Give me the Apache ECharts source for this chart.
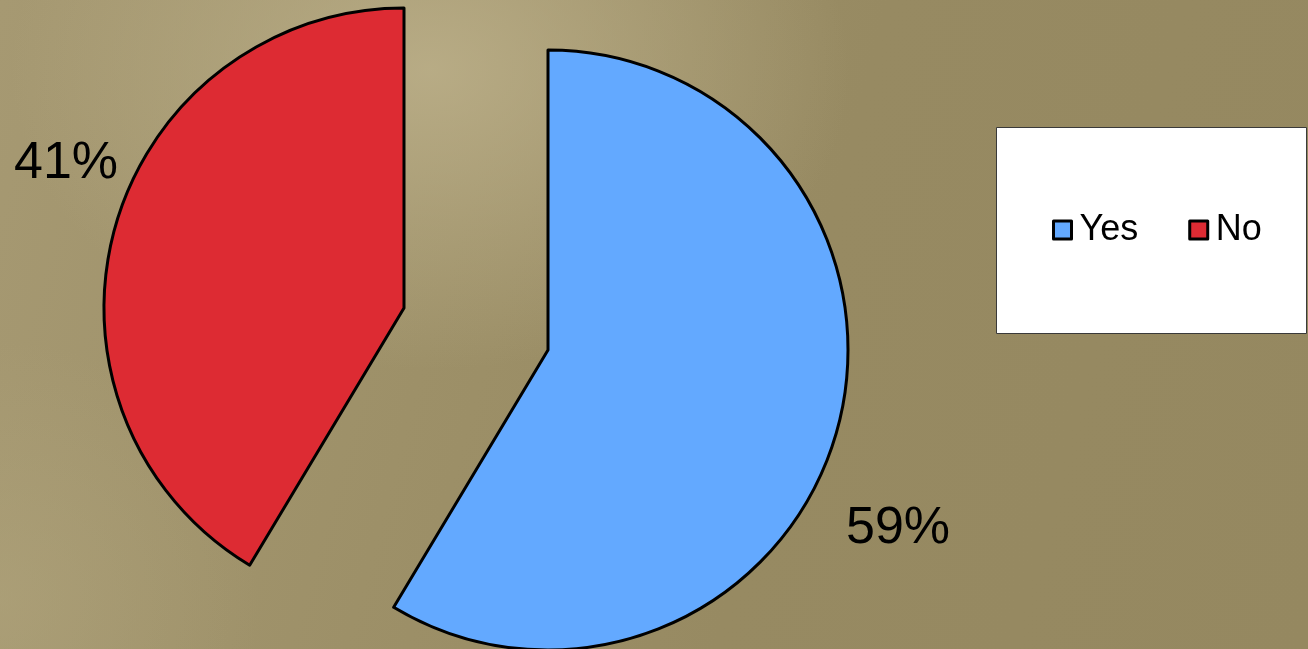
<!DOCTYPE html>
<html>
<head>
<meta charset="utf-8">
<script src="https://cdn.jsdelivr.net/npm/echarts@6/dist/echarts.min.js"></script>
<style>
  html, body { margin: 0; padding: 0; }
  #chart {
    width: 1308px; height: 649px;
    background-color: #968961;
    background-image:
      radial-gradient(ellipse 420px 300px at 430px 70px, rgba(190,178,140,0.8), rgba(190,178,140,0) 100%),
      radial-gradient(ellipse 260px 260px at 0px 600px, rgba(178,166,126,0.5), rgba(178,166,126,0) 100%),
      linear-gradient(105deg, #a69972 0%, #9d9068 35%, #978a62 60%, #958860 100%);
  }
</style>
</head>
<body>
<div id="chart"></div>
<script>
const categories = ['Yes', 'No'];
const values = [58.6, 41.4];
const colors = ['#63A9FF', '#DD2B33'];

const chart = echarts.init(document.getElementById('chart'), null, { renderer: 'canvas' });

// Each slice is drawn "exploded" by its own series (other slice kept invisible)
const sliceCenters = [[548, 350], [404, 308]];
const labelPos = [ { x: 898, y: 529 }, { x: 66, y: 164 } ];

function makeSeries(visibleIdx) {
  return {
    type: 'pie',
    center: sliceCenters[visibleIdx],
    radius: 300,
    startAngle: 90,
    clockwise: true,
    avoidLabelOverlap: false,
    emphasis: { disabled: true },
    labelLine: { show: false },
    labelLayout: function (params) {
      const p = labelPos[params.dataIndex];
      return { x: p.x, y: p.y, align: 'center', verticalAlign: 'middle' };
    },
    data: categories.map((c, i) => {
      const visible = i === visibleIdx;
      return {
        name: c,
        value: values[i],
        itemStyle: visible
          ? { color: colors[i], borderColor: '#000', borderWidth: 3 }
          : { color: 'rgba(0,0,0,0)', borderWidth: 0 },
        label: visible
          ? { show: true, formatter: (p) => Math.round(p.percent) + '%', fontSize: 52, color: '#000',
              fontFamily: 'Liberation Sans, Arial, sans-serif' }
          : { show: false }
      };
    })
  };
}

chart.setOption({
  backgroundColor: 'transparent',
  animation: false,
  textStyle: { fontFamily: 'Liberation Sans, Arial, sans-serif' },
  graphic: [{
    type: 'rect',
    shape: { x: 996.5, y: 127.5, width: 310, height: 206 },
    style: { fill: '#ffffff', stroke: '#3a3a3a', lineWidth: 1 },
    z: 1
  }],
  legend: {
    data: categories.map((c, i) => ({ name: c, itemStyle: { color: colors[i] } })),
    orient: 'horizontal',
    left: 1052,
    top: 212,
    padding: 0,
    itemWidth: 18,
    itemHeight: 18,
    itemGap: 50,
    icon: 'rect',
    selectedMode: false,
    itemStyle: { borderColor: '#000', borderWidth: 3 },
    textStyle: { fontSize: 36, color: '#000', padding: [0, 0, 0, 3], fontFamily: 'Liberation Sans, Arial, sans-serif' },
    z: 5
  },
  series: [makeSeries(0), makeSeries(1)]
});
</script>
</body>
</html>
